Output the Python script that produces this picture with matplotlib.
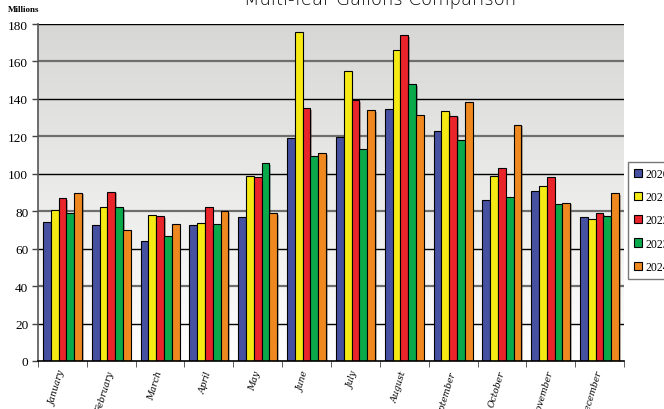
import numpy as np
import matplotlib
matplotlib.use("Agg")
import matplotlib.pyplot as plt
from matplotlib.patches import Patch
import matplotlib.patheffects as pe
from matplotlib.colors import LinearSegmentedColormap

months = ["January", "February", "March", "April", "May", "June", "July",
          "August", "September", "October", "November", "December"]
years = ["2020", "2021", "2022", "2023", "2024"]
v2020 = [74.3, 72.5, 64, 72.5, 77, 119, 119.5, 134.5, 122.8, 86, 91, 77]
v2021 = [80.8, 82.3, 78, 73.5, 99, 175.5, 154.8, 166, 133.3, 99, 93.5, 76]
v2022 = [86.8, 90.4, 77.5, 82, 98.5, 135, 139.3, 174.2, 131.1, 103, 98.5, 79]
v2023 = [78.8, 82, 67, 73, 105.5, 109.5, 113.5, 147.7, 118, 87.5, 84, 77.5]
v2024 = [89.9, 70, 73, 80, 79, 111, 133.8, 131.3, 138.1, 126.3, 84.5, 89.5]
series = [v2020, v2021, v2022, v2023, v2024]
colors = ["#4651a1", "#f5ea14", "#e9252b", "#0aa94b", "#ef891f"]

fig = plt.figure(figsize=(6.64, 4.10), dpi=100)
ax = fig.add_axes([38/664, 1-362/410, (624-38)/664, (362-25)/410])

# gradient background
grad = np.linspace(0, 1, 256).reshape(-1, 1)
cmap = LinearSegmentedColormap.from_list("bg", ["#ffffff", "#d7d7d5"])
ax.imshow(grad, aspect="auto", cmap=cmap, origin="lower",
          extent=[-0.5, 11.5, 0, 180], zorder=0)

# gridlines
for yv in range(20, 181, 20):
    if yv % 40 == 0:
        ax.axhline(yv, color="#6e6e6e", lw=1.6, zorder=1)
    else:
        ax.axhline(yv, color="#000000", lw=1.0, zorder=1)

x = np.arange(len(months))
w = 0.16
for i, (vals, c) in enumerate(zip(series, colors)):
    ax.bar(x - 0.4 + w/2 + i*w, vals, width=w, color=c, edgecolor="black",
           linewidth=0.8, zorder=3,
           path_effects=[pe.SimplePatchShadow(offset=(1.2, -1.2), alpha=0.35), pe.Normal()])

ax.set_xlim(-0.5, 11.5)
ax.set_ylim(0, 180)
ax.set_yticks(range(0, 181, 20))
ax.set_yticklabels([str(v) for v in range(0, 181, 20)], family="Liberation Serif", fontsize=9.5)
ax.tick_params(axis="y", direction="out", length=4, width=1, color="#444444", pad=3)

ax.set_xticks(x)
ax.set_xticklabels(months, rotation=73, rotation_mode="anchor", ha="right", va="center",
                   family="DejaVu Serif", style="italic", fontsize=6.6)
ax.tick_params(axis="x", which="major", length=0, pad=7)
ax.set_xticks(np.arange(-0.5, 12, 1), minor=True)
ax.tick_params(axis="x", which="minor", length=4, direction="out", color="#444444")

for s in ["top", "right"]:
    ax.spines[s].set_visible(False)
ax.spines["left"].set_color("#555555")
ax.spines["left"].set_linewidth(1.2)
ax.spines["bottom"].set_color("black")
ax.spines["bottom"].set_linewidth(1.2)
ax.spines["bottom"].set_zorder(4)

fig.text(8/664, 1-12/410, "Millions", family="Liberation Serif", fontweight="bold",
         fontsize=6.5, va="baseline")
fig.text(380/664, 1-5/410, "Multi-Year Gallons Comparison", family="DejaVu Sans",
         fontsize=13, ha="center", va="baseline", fontweight="light")

handles = [Patch(facecolor=c, edgecolor="black", linewidth=0.8) for c in colors]
leg = fig.legend(handles, years, loc="upper left", bbox_to_anchor=(628/664, 1-163/410),
                 prop={"family": "Liberation Serif", "size": 8.5}, frameon=True,
                 fancybox=False, edgecolor="#555555", handlelength=0.7, handleheight=0.7,
                 handletextpad=0.3, labelspacing=0.95, borderpad=0.5, borderaxespad=0)
leg.get_frame().set_linewidth(1.0)

fig.savefig("out.png", dpi=100)
